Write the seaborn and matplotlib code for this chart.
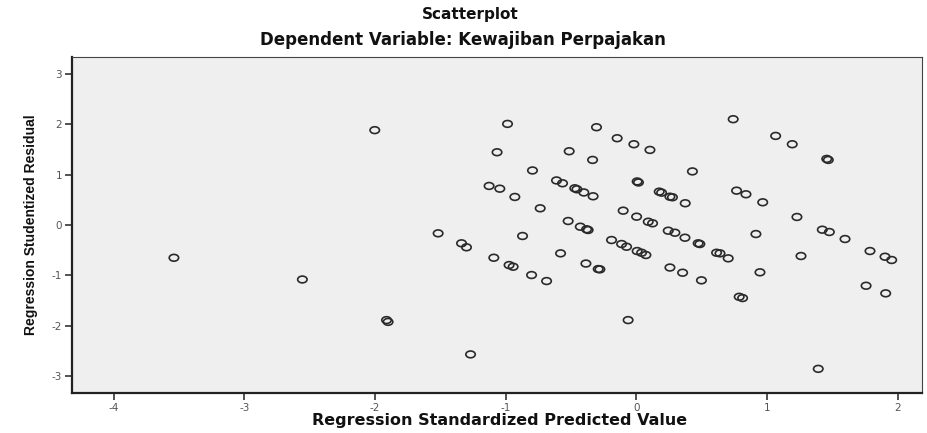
import numpy as np
import pandas as pd
import matplotlib
matplotlib.use("Agg")
import matplotlib.pyplot as plt
from matplotlib.path import Path
from matplotlib.transforms import Affine2D
import seaborn as sns

# Data
predicted = [-3.54, -2.557, -2.003, -1.913, -1.901, -1.518, -1.339, -1.301, -1.270,
             -1.128, -1.046, -1.092, -1.067, -0.987, -0.975, -0.944, -0.931, -0.872,
             -0.803, -0.796, -0.737, -0.688, -0.612, -0.566, -0.581, -0.523, -0.515,
             -0.472, -0.456, -0.403, -0.332, -0.430, -0.382, -0.370, -0.387, -0.336,
             -0.306, -0.293, -0.280, -0.191, -0.148, -0.114, -0.076, -0.102, -0.064,
             -0.020, 0.001, 0.005, 0.015, 0.005, 0.039, 0.072, 0.090, 0.123, 0.103,
             0.174, 0.192, 0.256, 0.275, 0.243, 0.294, 0.256, 0.353, 0.371, 0.373,
             0.428, 0.472, 0.485, 0.497, 0.613, 0.639, 0.702, 0.740, 0.766, 0.838,
             0.786, 0.812, 0.914, 0.945, 0.966, 1.065, 1.192, 1.228, 1.259, 1.391,
             1.422, 1.476, 1.456, 1.468, 1.596, 1.757, 1.787, 1.902, 1.953, 1.907]
residual = [-0.65, -1.08, 1.88, -1.885, -1.92, -0.165, -0.363, -0.442, -2.565,
            0.774, 0.720, -0.649, 1.442, 2.004, -0.794, -0.827, 0.556, -0.218,
            -0.992, 1.081, 0.331, -1.111, 0.883, 0.827, -0.562, 0.079, 1.462,
            0.728, 0.708, 0.645, 0.569, -0.034, -0.085, -0.099, -0.764, 1.290,
            1.938, -0.873, -0.879, -0.298, 1.720, -0.377, -0.431, 0.284, -1.885,
            1.601, 0.165, 0.863, 0.843, -0.516, -0.550, -0.595, 0.065, 0.034, 1.488,
            0.661, 0.641, 0.561, 0.550, -0.113, -0.153, -0.843, -0.946, -0.252, 0.431,
            1.062, -0.363, -0.377, -1.097, -0.550, -0.562, -0.661, 2.097, 0.681, 0.609,
            -1.423, -1.448, -0.179, -0.938, 0.450, 1.766, 1.601, 0.159, -0.615, -2.851,
            -0.093, -0.139, 1.310, 1.290, -0.278, -1.204, -0.516, -0.629, -0.694, -1.355]

x_ticks = [-4, -3, -2, -1, 0, 1, 2]
x_tick_labels = ["-4", "-3", "-2", "-1", "0", "1", "2"]
y_ticks = [3, 2, 1, 0, -1, -2, -3]
y_tick_labels = ["3", "2", "1", "0", "-1", "-2", "-3"]

title = "Scatterplot"
subtitle = "Dependent Variable: Kewajiban Perpajakan"
x_label = "Regression Standardized Predicted Value"
y_label = "Regression Studentized Residual"

df = pd.DataFrame({"pred": predicted, "resid": residual})

sns.set_style("white")
plt.rcParams["font.family"] = ["DejaVu Sans"]

fig = plt.figure(figsize=(9.28, 4.33), dpi=100)
ax = fig.add_axes([72 / 928, 40 / 433, 850 / 928, 336 / 433])
ax.set_facecolor("#efefef")

ellipse = Path.unit_circle().transformed(Affine2D().scale(1.0, 0.72))
sns.scatterplot(data=df, x="pred", y="resid", ax=ax, marker=ellipse, s=46,
                facecolor="none", edgecolor="#2a2a2a", linewidth=1.2, legend=False)

ax.set_xlim(-4.32, 2.185)
ax.set_ylim(-3.33, 3.33)
ax.set_xticks(x_ticks)
ax.set_xticklabels(x_tick_labels)
ax.set_yticks(y_ticks)
ax.set_yticklabels(y_tick_labels)
ax.tick_params(axis="both", direction="out", length=5, width=1.2, color="#333333",
               labelsize=7.5, labelcolor="#555555", left=True, bottom=True, pad=2)
for side in ["left", "bottom"]:
    ax.spines[side].set_color("#222222")
    ax.spines[side].set_linewidth(1.6)
for side in ["top", "right"]:
    ax.spines[side].set_color("#444444")
    ax.spines[side].set_linewidth(0.8)

ax.set_xlabel("")
ax.set_ylabel(y_label, fontsize=10, fontweight="bold", labelpad=10, color="#111111",
              family=["Liberation Sans Narrow", "Liberation Sans", "DejaVu Sans"])

fig.text(500 / 928, 1 - 421 / 433, x_label, fontsize=11.5, fontweight="bold",
         ha="center", va="center", color="#111111")
fig.text(470 / 928, 1 - 14 / 433, title, fontsize=11, fontweight="bold",
         ha="center", va="center", color="#111111")
fig.text(463 / 928, 1 - 40 / 433, subtitle, fontsize=12, fontweight="bold",
         ha="center", va="center", color="#111111")

fig.savefig("out.png", dpi=100)
